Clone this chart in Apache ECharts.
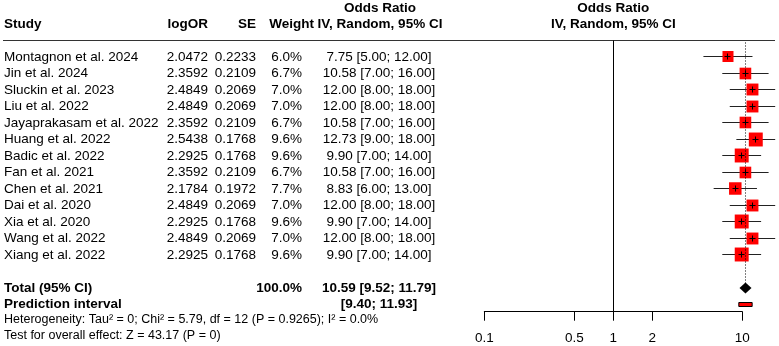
<!DOCTYPE html>
<html>
<head>
<meta charset="utf-8">
<script src="https://cdn.jsdelivr.net/npm/echarts@6/dist/echarts.min.js"></script>
<style>html,body{margin:0;padding:0;background:#fff}#main{width:779px;height:346px}</style>
</head>
<body>
<div id="main"></div>
<script>
// forest plot data
var studies = ['Montagnon et al. 2024', 'Jin et al. 2024', 'Sluckin et al. 2023', 'Liu et al. 2022',
  'Jayaprakasam et al. 2022', 'Huang et al. 2022', 'Badic et al. 2022', 'Fan et al. 2021',
  'Chen et al. 2021', 'Dai et al. 2020', 'Xia et al. 2020', 'Wang et al. 2022', 'Xiang et al. 2022'];
var logOR = [2.0472, 2.3592, 2.4849, 2.4849, 2.3592, 2.5438, 2.2925, 2.3592, 2.1784, 2.4849, 2.2925, 2.4849, 2.2925];
var se = [0.2233, 0.2109, 0.2069, 0.2069, 0.2109, 0.1768, 0.1768, 0.2109, 0.1972, 0.2069, 0.1768, 0.2069, 0.1768];
var weight = [6.0, 6.7, 7.0, 7.0, 6.7, 9.6, 9.6, 6.7, 7.7, 7.0, 9.6, 7.0, 9.6];
var oddsRatio = [7.75, 10.58, 12.00, 12.00, 10.58, 12.73, 9.90, 10.58, 8.83, 12.00, 9.90, 12.00, 9.90];
var ciLower = [5.00, 7.00, 8.00, 8.00, 7.00, 9.00, 7.00, 7.00, 6.00, 8.00, 7.00, 8.00, 7.00];
var ciUpper = [12.00, 16.00, 18.00, 18.00, 16.00, 18.00, 14.00, 16.00, 13.00, 18.00, 14.00, 18.00, 14.00];

var totalOR = 10.59, totalLower = 9.52, totalUpper = 11.79, totalWeight = 100.0;
var predLower = 9.40, predUpper = 11.93;
var tau2 = '0', chi2 = '5.79', df = 12, pHet = '0.9265', i2 = '0.0%';
var zVal = '43.17', pZ = '0';

var tickLabels = ['0.1', '0.5', '1', '2', '10'];

var FONT = '"Liberation Sans", Arial, Helvetica, sans-serif';
var FS = 13.5;
var ROW_TOTAL = 14, ROW_PRED = 15;

function ciText(or, lo, hi) {
  return or.toFixed(2) + ' [' + lo.toFixed(2) + '; ' + hi.toFixed(2) + ']';
}
function txt(x, y, s, align, bold, size) {
  return {
    type: 'text', x: x, y: y, silent: true,
    style: {
      text: s, fill: '#000', align: align || 'left', verticalAlign: 'middle',
      fontFamily: FONT, fontSize: size || FS, fontWeight: bold ? 'bold' : 'normal'
    }
  };
}
// snap to pixel centre so 1px lines stay crisp
function crisp(v) { return Math.round(v - 0.5) + 0.5; }

var lg = function (v) { return Math.log(v) / Math.LN10; };
var tickVals = tickLabels.map(function (t) { return lg(+t); });

var studyData = studies.map(function (s, i) {
  return [lg(ciLower[i]), lg(oddsRatio[i]), lg(ciUpper[i]), i, weight[i]];
});
var summaryData = [[lg(totalLower), lg(totalOR), lg(totalUpper), ROW_TOTAL, lg(predLower), lg(predUpper), ROW_PRED]];

function renderStudy(params, api) {
  var i = params.dataIndex;
  var lo = api.coord([api.value(0), api.value(3)]);
  var est = api.coord([api.value(1), api.value(3)]);
  var hi = api.coord([api.value(2), api.value(3)]);
  var y = est[1];
  var yl = crisp(y), xm = crisp(est[0]);
  var s = 4.5 * Math.sqrt(api.value(4));
  return {
    type: 'group',
    children: [
      { type: 'line', shape: { x1: lo[0], y1: yl, x2: hi[0], y2: yl }, style: { stroke: '#222', lineWidth: 1 } },
      { type: 'rect', shape: { x: est[0] - s / 2, y: yl - s / 2, width: s, height: s }, style: { fill: '#ff0000' } },
      { type: 'line', shape: { x1: xm - 3, y1: yl, x2: xm + 3, y2: yl }, style: { stroke: '#000', lineWidth: 1 } },
      { type: 'line', shape: { x1: xm, y1: yl - 3, x2: xm, y2: yl + 3 }, style: { stroke: '#000', lineWidth: 1 } },
      txt(4, y, studies[i], 'left'),
      txt(208, y, logOR[i].toFixed(4), 'right'),
      txt(256, y, se[i].toFixed(4), 'right'),
      txt(302, y, weight[i].toFixed(1) + '%', 'right'),
      txt(379, y, ciText(oddsRatio[i], ciLower[i], ciUpper[i]), 'center')
    ]
  };
}

function renderSummary(params, api) {
  var lo = api.coord([api.value(0), api.value(3)]);
  var est = api.coord([api.value(1), api.value(3)]);
  var hi = api.coord([api.value(2), api.value(3)]);
  var top = api.coord([api.value(1), -1]);
  var pl = api.coord([api.value(4), api.value(6)]);
  var ph = api.coord([api.value(5), api.value(6)]);
  var y = est[1], yp = pl[1];
  var rowH = api.size([0, 1])[1];
  var xd = crisp(est[0]);
  return {
    type: 'group',
    children: [
      { type: 'line', shape: { x1: xd, y1: top[1] + 2, x2: xd, y2: y - 5 },
        style: { stroke: '#000', lineWidth: 1, lineDash: [1, 2] } },
      { type: 'polygon', shape: { points: [[lo[0], y], [est[0], y - 5.5], [hi[0], y], [est[0], y + 5.5]] },
        style: { fill: '#000' } },
      { type: 'rect', shape: { x: pl[0], y: crisp(yp) - 2, width: ph[0] - pl[0], height: 4 },
        style: { fill: '#ff0000', stroke: '#000', lineWidth: 1 } },
      txt(4, y, 'Total (95% CI)', 'left', true),
      txt(302, y, totalWeight.toFixed(1) + '%', 'right', true),
      txt(379, y, ciText(totalOR, totalLower, totalUpper), 'center', true),
      txt(4, yp, 'Prediction interval', 'left', true),
      txt(379, yp, '[' + predLower.toFixed(2) + '; ' + predUpper.toFixed(2) + ']', 'center', true),
      txt(4, yp + rowH - 1, 'Heterogeneity: Tau\u00b2 = ' + tau2 + '; Chi\u00b2 = ' + chi2 + ', df = ' + df +
        ' (P = ' + pHet + '); I\u00b2 = ' + i2, 'left', false, 12.5),
      txt(4, yp + 2 * rowH - 1.5, 'Test for overall effect: Z = ' + zVal + ' (P = ' + pZ + ')', 'left', false, 12.5)
    ]
  };
}

var myChart = echarts.init(document.getElementById('main'));

var option = {
  animation: false,
  grid: [
    { left: 484.3, right: 3.2, top: 40.5, height: 271.2 },
    { left: 484.3, width: 258, top: 300, bottom: 34.3 }
  ],
  xAxis: [
    { gridIndex: 0, type: 'value', min: -1, max: 1.26, show: false },
    {
      gridIndex: 1, type: 'value', min: -1, max: 1,
      axisLine: { show: true, lineStyle: { color: '#000', width: 1 } },
      axisTick: { show: true, length: 9, customValues: tickVals, lineStyle: { color: '#000', width: 1 } },
      axisLabel: {
        customValues: tickVals, margin: 20, color: '#000', fontSize: FS, fontFamily: FONT,
        formatter: function (v) {
          var best = 0;
          tickVals.forEach(function (t, k) { if (Math.abs(t - v) < Math.abs(tickVals[best] - v)) best = k; });
          return tickLabels[best];
        }
      },
      splitLine: { show: false }
    }
  ],
  yAxis: [
    { gridIndex: 0, type: 'value', inverse: true, min: -1, max: 15.44, show: false },
    { gridIndex: 1, type: 'value', min: 0, max: 1, show: false }
  ],
  graphic: [
    txt(4, 24, 'Study', 'left', true),
    txt(208, 24, 'logOR', 'right', true),
    txt(256, 24, 'SE', 'right', true),
    txt(314, 24, 'Weight', 'right', true),
    txt(380, 8, 'Odds Ratio', 'center', true),
    txt(380, 24, 'IV, Random, 95% CI', 'center', true),
    txt(613.3, 8, 'Odds Ratio', 'center', true),
    txt(613.3, 24, 'IV, Random, 95% CI', 'center', true),
    { type: 'line', silent: true, shape: { x1: 3, y1: 40.5, x2: 775, y2: 40.5 }, style: { stroke: '#333', lineWidth: 1 } }
  ],
  series: [
    {
      type: 'custom', name: 'studies', xAxisIndex: 0, yAxisIndex: 0,
      data: studyData, encode: { x: [0, 1, 2], y: 3 },
      renderItem: renderStudy, clip: false, silent: true,
      markLine: {
        silent: true, symbol: 'none', label: { show: false },
        lineStyle: { color: '#000', type: 'solid', width: 1 },
        data: [{ xAxis: 0 }]
      }
    },
    {
      type: 'custom', name: 'summary', xAxisIndex: 0, yAxisIndex: 0,
      data: summaryData, encode: { x: [0, 1, 2], y: 3 },
      renderItem: renderSummary, clip: false, silent: true
    }
  ]
};

myChart.setOption(option);
</script>
</body>
</html>
